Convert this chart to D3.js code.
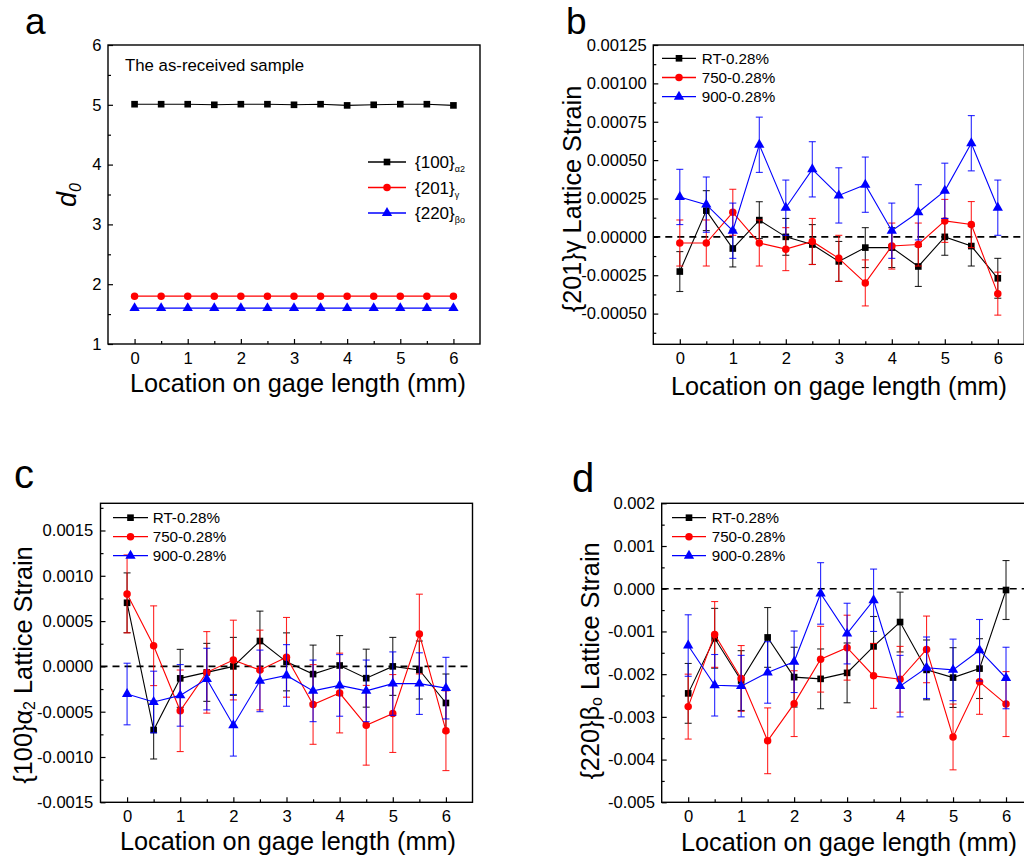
<!DOCTYPE html>
<html><head><meta charset="utf-8">
<script src="https://cdn.jsdelivr.net/npm/d3@7"></script>
<style>
body{margin:0;background:#fff}
svg{display:block}
text{font-family:Arial,"Liberation Sans",sans-serif;fill:#000}
</style>
</head><body>
<svg id="chart" width="1024" height="864"></svg>
<script>
// ---------- data ----------
const locations = [0,0.5,1,1.5,2,2.5,3,3.5,4,4.5,5,5.5,6];
const xMajorTicks = [0,1,2,3,4,5,6];
const seriesNames = ["RT-0.28%","750-0.28%","900-0.28%"];

// panel a : d0 of the as-received sample
const d0Alpha2 = [5.01,5.01,5.01,5.00,5.01,5.01,5.00,5.01,4.99,5.00,5.01,5.01,4.99];
const d0Gamma  = [1.80,1.80,1.80,1.80,1.80,1.80,1.80,1.80,1.80,1.80,1.80,1.80,1.80];
const d0Beta   = [1.60,1.60,1.60,1.60,1.60,1.60,1.60,1.60,1.60,1.60,1.60,1.60,1.60];
const aYTicks = [1,2,3,4,5,6];

// panel b : {201}gamma lattice strain
const bRT   = [-0.000226,0.000171,-0.000076,0.000109,0.0,-0.00005,-0.00016,-0.00007,-0.00007,-0.000193,0.0,-0.00006,-0.00027];
const bRTe  = [0.00013,0.00013,0.00012,0.00012,0.00012,0.00013,0.00013,0.00013,0.00013,0.00013,0.00012,0.00013,0.00013];
const b750  = [-0.00004,-0.00004,0.00016,-0.00004,-0.00008,-0.00003,-0.00014,-0.0003,-0.00006,-0.00005,0.000104,0.00008,-0.00037];
const b750e = [0.00015,0.00015,0.00015,0.00015,0.00014,0.00015,0.00015,0.00015,0.00015,0.00014,0.00014,0.00015,0.00014];
const b900  = [0.00026,0.00021,0.00004,0.0006,0.00019,0.00044,0.00027,0.00034,0.00004,0.00016,0.0003,0.00061,0.00019];
const b900e = [0.00018,0.00018,0.00018,0.00018,0.00018,0.00018,0.00018,0.00018,0.00018,0.00018,0.00018,0.00018,0.00018];
const bYTicks = [-0.0005,-0.00025,0,0.00025,0.0005,0.00075,0.001,0.00125];

// panel c : {100}alpha2 lattice strain
const cRT   = [0.000702,-0.000702,-0.000132,-0.000066,0.0,0.00028,0.00005,-0.000085,0.00001,-0.00013,0.0,-0.00004,-0.000404];
const cRTe  = [0.00033,0.00032,0.00032,0.00032,0.00032,0.00033,0.00032,0.00032,0.00033,0.00032,0.00032,0.00032,0.00032];
const c750  = [0.0008,0.000228,-0.00049,-0.000066,0.00007,-0.00004,0.0001,-0.00042,-0.000294,-0.00065,-0.00052,0.000357,-0.00071];
const c750e = [0.00043,0.00044,0.00045,0.00045,0.00044,0.00044,0.00044,0.00044,0.00044,0.00044,0.00043,0.00044,0.00044];
const c900  = [-0.000305,-0.000393,-0.00032,-0.00014,-0.00065,-0.00016,-0.0001,-0.00027,-0.00021,-0.00027,-0.00019,-0.00019,-0.00024];
const c900e = [0.00034,0.00034,0.00034,0.00034,0.00034,0.00034,0.00034,0.00034,0.00034,0.00034,0.00035,0.00034,0.00034];
const cYTicks = [-0.0015,-0.001,-0.0005,0,0.0005,0.001,0.0015];

// panel d : {220}beta-o lattice strain
const dRT   = [-0.00245,-0.00116,-0.00215,-0.00114,-0.00207,-0.00211,-0.00197,-0.00135,-0.00078,-0.0019,-0.00208,-0.00187,-0.00003];
const dRTe  = [0.0007,0.0007,0.0007,0.0007,0.0007,0.0007,0.0007,0.0007,0.0007,0.0007,0.0007,0.0007,0.00069];
const d750  = [-0.00276,-0.00107,-0.0021,-0.00356,-0.00269,-0.00165,-0.00138,-0.00204,-0.00212,-0.00142,-0.00347,-0.00218,-0.0027];
const d750e = [0.00076,0.00077,0.00077,0.00077,0.00077,0.00077,0.00076,0.00076,0.00077,0.00078,0.00077,0.00076,0.00076];
const d900  = [-0.00133,-0.00226,-0.00228,-0.00196,-0.00171,-0.00011,-0.00105,-0.00027,-0.00228,-0.00185,-0.0019,-0.00144,-0.00209];
const d900e = [0.00072,0.00072,0.00072,0.00072,0.00072,0.00072,0.00071,0.00073,0.00072,0.00072,0.00072,0.00072,0.00072];
const dYTicks = [-0.005,-0.004,-0.003,-0.002,-0.001,0,0.001,0.002];

// ---------- styling ----------
const colors = ["#000000","#ff0000","#0000ff"];
const symbols = [d3.symbolSquare, d3.symbolCircle, d3.symbolTriangle];
const symSizes = [44, 44, 46];
const tickFont = "16.6px";
const titleFont = "25.3px";

const svg = d3.select("#chart");

function drawPanel(p) {
  const g = svg.append("g");
  const x = d3.scaleLinear().domain([-0.5, 6.5]).range([p.left, p.right]);
  const y = d3.scaleLinear().domain(p.yDomain).range([p.bottom, p.top]);

  const xMinor = [0.5,1.5,2.5,3.5,4.5,5.5];
  const step = p.yTicks[1] - p.yTicks[0];
  const yMinor = [];
  for (let v = p.yTicks[0] - step / 2; v <= p.yDomain[1] + 1e-12; v += step / 2) {
    if (v >= p.yDomain[0] - 1e-12 && !p.yTicks.some(t => Math.abs(t - v) < step * 0.01)) yMinor.push(v);
  }

  const axStyle = sel => {
    sel.selectAll("path.domain").remove();
    sel.selectAll("line").attr("stroke", "#000").attr("stroke-width", 1.2);
    sel.selectAll("text").style("font-size", tickFont).attr("fill", "#000")
      .style("font-family", 'Arial,"Liberation Sans",sans-serif');
  };

  g.append("g").attr("transform", `translate(0,${p.bottom})`)
    .call(d3.axisBottom(x).tickValues(xMajorTicks).tickFormat(d3.format("d"))
      .tickSizeInner(-5).tickSizeOuter(0).tickPadding(8.3)).call(axStyle);
  g.append("g").attr("transform", `translate(0,${p.bottom})`)
    .call(d3.axisBottom(x).tickValues(xMinor).tickFormat("")
      .tickSizeInner(-3).tickSizeOuter(0)).call(axStyle);
  g.append("g").attr("transform", `translate(${p.left},0)`)
    .call(d3.axisLeft(y).tickValues(p.yTicks).tickFormat(p.fmt)
      .tickSizeInner(-5).tickSizeOuter(0).tickPadding(p.yPad)).call(axStyle);
  g.append("g").attr("transform", `translate(${p.left},0)`)
    .call(d3.axisLeft(y).tickValues(yMinor).tickFormat("")
      .tickSizeInner(-3).tickSizeOuter(0)).call(axStyle);

  g.append("rect").attr("x", p.left).attr("y", p.top)
    .attr("width", p.right - p.left).attr("height", p.bottom - p.top)
    .attr("fill", "none").attr("stroke", "#000").attr("stroke-width", 1.4);

  if (p.zeroLine) {
    g.append("line").attr("x1", p.left).attr("x2", p.right)
      .attr("y1", y(0)).attr("y2", y(0))
      .attr("stroke", "#000").attr("stroke-width", 1.6).attr("stroke-dasharray", "7,5");
  }

  const line = d3.line().x((d, i) => x(locations[i])).y(d => y(d));
  p.series.forEach((s, k) => {
    const sg = g.append("g");
    sg.append("path").datum(s.values).attr("d", line)
      .attr("fill", "none").attr("stroke", colors[k]).attr("stroke-width", 1.1);
    if (s.errors) {
      s.values.forEach((v, i) => {
        const cx = x(locations[i]), y1 = y(v + s.errors[i]), y2 = y(v - s.errors[i]);
        sg.append("line").attr("x1", cx).attr("x2", cx).attr("y1", y1).attr("y2", y2)
          .attr("stroke", colors[k]).attr("stroke-width", 1.1).attr("opacity", 0.85);
        [y1, y2].forEach(yy => sg.append("line").attr("x1", cx - 3.5).attr("x2", cx + 3.5)
          .attr("y1", yy).attr("y2", yy).attr("stroke", colors[k]).attr("stroke-width", 1.1).attr("opacity", 0.85));
      });
    }
    sg.selectAll("path.sym").data(s.values).enter().append("path").attr("class", "sym")
      .attr("d", d3.symbol().type(symbols[k]).size(symSizes[k]))
      .attr("transform", (d, i) => `translate(${x(locations[i])},${y(d)})`)
      .attr("fill", colors[k]);
  });
  return g;
}

function legendRow(g, k, x1, x2, yy) {
  g.append("line").attr("x1", x1).attr("x2", x2).attr("y1", yy).attr("y2", yy)
    .attr("stroke", colors[k]).attr("stroke-width", 1.3);
  g.append("path").attr("d", d3.symbol().type(symbols[k]).size(symSizes[k]))
    .attr("transform", `translate(${(x1 + x2) / 2},${yy})`).attr("fill", colors[k]);
}

const fmtFixed = n => v => (Math.abs(v) < 1e-12 ? 0 : v).toFixed(n);

function xTitle(cx, yy) {
  svg.append("text").attr("x", cx).attr("y", yy).attr("text-anchor", "middle")
    .style("font-size", titleFont).text("Location on gage length (mm)");
}

// ----- panel a -----
const ga = drawPanel({
  left: 108, right: 480, top: 45, bottom: 344, yDomain: [1, 6], yTicks: aYTicks,
  fmt: d3.format("d"), yPad: 6.5, zeroLine: false,
  series: [{values: d0Alpha2}, {values: d0Gamma}, {values: d0Beta}]
});
ga.append("text").attr("x", 125).attr("y", 71).style("font-size", "16.8px").text("The as-received sample");
const aLegend = [["{100}", "α2"], ["{201}", "γ"], ["{220}", "βo"]];
aLegend.forEach((lab, k) => {
  const yy = 162 + k * 25.5;
  legendRow(ga, k, 368, 406, yy);
  const t = ga.append("text").attr("x", 415).attr("y", yy + 6).style("font-size", "17px");
  t.append("tspan").text(lab[0]);
  t.append("tspan").attr("dy", 4).style("font-size", "9px").text(lab[1]);
});
svg.append("text").attr("x", 25).attr("y", 34).style("font-size", "37px").text("a");
const aY = svg.append("text").attr("transform", "translate(76,195) rotate(-90)")
  .attr("text-anchor", "middle").style("font-size", "27px").style("font-style", "italic");
aY.append("tspan").text("d");
aY.append("tspan").attr("dy", 5).style("font-size", "16px").text("0");
xTitle(298, 392);

// ----- panel b -----
const gb = drawPanel({
  left: 653.3, right: 1024.3, top: 45, bottom: 344.3, yDomain: [-0.0007, 0.00125], yTicks: bYTicks,
  fmt: fmtFixed(5), yPad: 6.6, zeroLine: true,
  series: [{values: bRT, errors: bRTe}, {values: b750, errors: b750e}, {values: b900, errors: b900e}]
});
seriesNames.forEach((n, k) => {
  const yy = 58.3 + k * 19.2;
  legendRow(gb, k, 662, 696, yy);
  gb.append("text").attr("x", 701.7).attr("y", yy + 5.5).style("font-size", "15.2px").text(n);
});
svg.append("text").attr("x", 566).attr("y", 34).style("font-size", "37px").text("b");
svg.append("text").attr("transform", "translate(581,199) rotate(-90)").attr("text-anchor", "middle")
  .style("font-size", titleFont).text("{201}γ Lattice Strain");
xTitle(839, 395);

// ----- panel c -----
const gc = drawPanel({
  left: 100.5, right: 472.5, top: 503.3, bottom: 802.3, yDomain: [-0.0015, 0.0018], yTicks: cYTicks,
  fmt: fmtFixed(4), yPad: 7.2, zeroLine: true,
  series: [{values: cRT, errors: cRTe}, {values: c750, errors: c750e}, {values: c900, errors: c900e}]
});
seriesNames.forEach((n, k) => {
  const yy = 517.7 + k * 19;
  legendRow(gc, k, 113, 148, yy);
  gc.append("text").attr("x", 152.7).attr("y", yy + 5.5).style("font-size", "15.2px").text(n);
});
svg.append("text").attr("x", 14).attr("y", 488).style("font-size", "40px").text("c");
const cY = svg.append("text").attr("transform", "translate(32,665) rotate(-90)").attr("text-anchor", "middle")
  .style("font-size", titleFont);
cY.append("tspan").text("{100}α");
cY.append("tspan").attr("dy", 3).style("font-size", "16px").text("2");
cY.append("tspan").attr("dy", -3).text(" Lattice Strain");
xTitle(288, 850);

// ----- panel d -----
const gd = drawPanel({
  left: 661.7, right: 1032.5, top: 503.3, bottom: 802.3, yDomain: [-0.005, 0.002], yTicks: dYTicks,
  fmt: fmtFixed(3), yPad: 6.7, zeroLine: true,
  series: [{values: dRT, errors: dRTe}, {values: d750, errors: d750e}, {values: d900, errors: d900e}]
});
seriesNames.forEach((n, k) => {
  const yy = 517.7 + k * 19;
  legendRow(gd, k, 672, 706, yy);
  gd.append("text").attr("x", 711.7).attr("y", yy + 5.5).style("font-size", "15.2px").text(n);
});
svg.append("text").attr("x", 572).attr("y", 492).style("font-size", "40px").text("d");
const dY = svg.append("text").attr("transform", "translate(599,661) rotate(-90)").attr("text-anchor", "middle")
  .style("font-size", titleFont);
dY.append("tspan").text("{220}β");
dY.append("tspan").attr("dy", 3).style("font-size", "16px").text("o");
dY.append("tspan").attr("dy", -3).text(" Lattice Strain");
xTitle(849, 851);
</script>
</body></html>
